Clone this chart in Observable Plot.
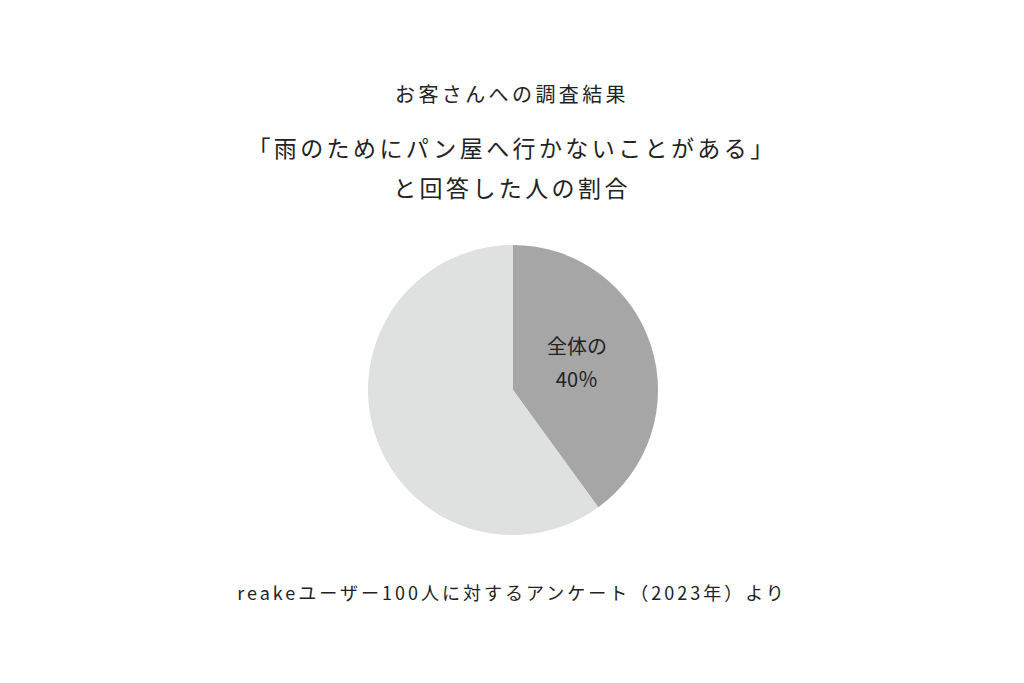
<!DOCTYPE html>
<html lang="ja">
<head>
<meta charset="utf-8">
<script src="https://cdn.jsdelivr.net/npm/d3@7"></script>
<script src="https://cdn.jsdelivr.net/npm/@observablehq/plot@0.6"></script>
<style>
  html, body { margin: 0; padding: 0; background: #fff; }
  #page { position: relative; width: 1024px; height: 683px; overflow: hidden; font-family: "Noto Sans CJK JP", "Noto Sans", sans-serif; color: #222; }
  .t { position: absolute; left: 0; width: 1024px; text-align: center; white-space: nowrap; }
  #title { top: 80px; font-size: 20px; letter-spacing: 3.4px; line-height: 28px; }
  #subtitle { top: 127px; font-size: 23px; letter-spacing: 3.4px; line-height: 40px; }
  #chart { position: absolute; left: 0; top: 230px; }
  #caption { top: 579px; font-size: 18px; letter-spacing: 3px; line-height: 26px; }
</style>
</head>
<body>
<div id="page">
  <div class="t" id="title"></div>
  <div class="t" id="subtitle"></div>
  <div id="chart"></div>
  <div class="t" id="caption"></div>
</div>
<script>
const titleText = "お客さんへの調査結果";
const subtitleLines = ["「雨のためにパン屋へ行かないことがある」", "と回答した人の割合"];
const captionText = "reakeユーザー100人に対するアンケート（2023年）より";

const categories = ["はい", "いいえ"];
const values = [40, 60];
const colors = ["#a6a6a6", "#dfe0e0"];
const labelLines = ["全体の", "40％"];

document.getElementById("title").textContent = titleText;
document.getElementById("subtitle").innerHTML = subtitleLines.map(s => `<div>${s}</div>`).join("");
document.getElementById("caption").textContent = captionText;

const data = categories.map((c, i) => ({category: c, value: values[i], color: colors[i]}));
const arcs = d3.pie().sort(null).value(d => d.value)(data);
// centroid in unit coordinates (radius 1), angle measured clockwise from 12 o'clock
const labelData = arcs.slice(0, 1).map(a => {
  const m = (a.startAngle + a.endAngle) / 2;
  return {x: Math.sin(m) * 0.46, y: Math.cos(m) * 0.46 + 0.07, text: labelLines.join("\n")};
});

const W = 1024, H = 320, CX = 513, CY = 160, R = 145;

const pieMark = (index, scales, values, dimensions) => {
  const cx = scales.x(0), cy = scales.y(0);
  const r = scales.x(1) - scales.x(0);
  const arc = d3.arc().innerRadius(0).outerRadius(r);
  const g = d3.create("svg:g").attr("transform", `translate(${cx},${cy})`);
  g.selectAll("path").data(arcs).join("path")
    .attr("d", arc)
    .attr("fill", d => d.data.color);
  return g.node();
};

const plot = Plot.plot({
  width: W,
  height: H,
  margin: 0,
  x: {domain: [-1, 1], range: [CX - R, CX + R], axis: null},
  y: {domain: [-1, 1], range: [CY + R, CY - R], axis: null},
  style: {background: "transparent", fontFamily: "'Noto Sans CJK JP', sans-serif"},
  marks: [
    pieMark,
    Plot.text(labelData, {x: "x", y: "y", text: "text", fontSize: 20, lineHeight: 1.65, fill: "#222", letterSpacing: 2})
  ]
});
document.getElementById("chart").appendChild(plot);
</script>
</body>
</html>
